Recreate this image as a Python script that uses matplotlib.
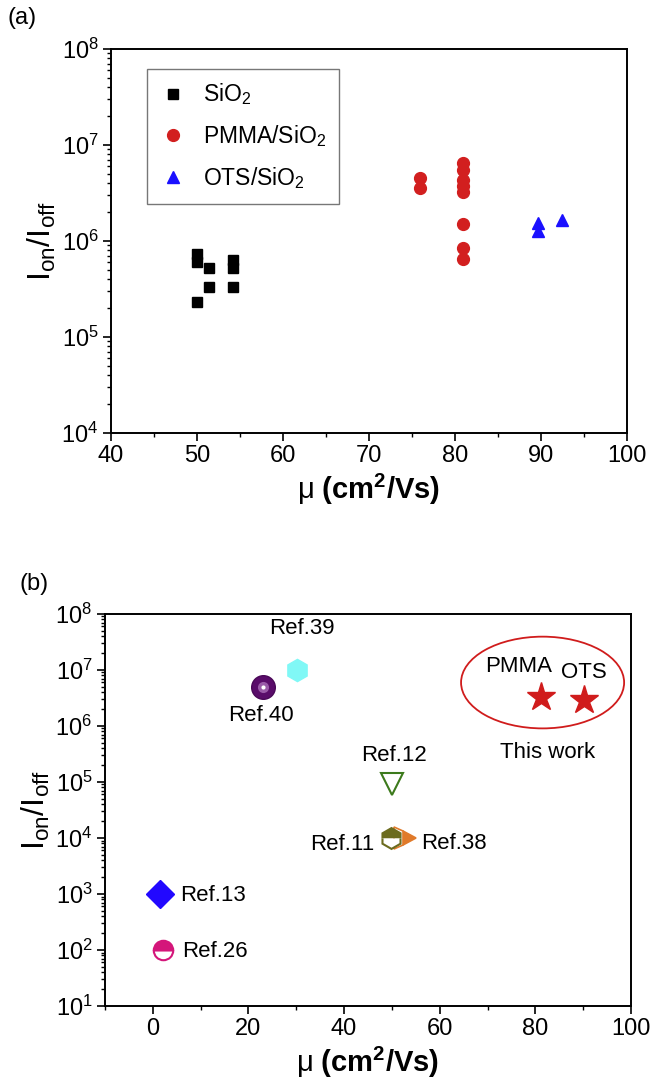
import matplotlib
matplotlib.use("Agg")
import matplotlib.pyplot as plt
from matplotlib.patches import Ellipse
from matplotlib.ticker import LogLocator, MultipleLocator, NullFormatter

plt.rcParams["font.family"] = ["Liberation Sans", "DejaVu Sans"]
plt.rcParams["mathtext.fontset"] = "custom"
plt.rcParams["mathtext.rm"] = "Liberation Sans"
plt.rcParams["mathtext.it"] = "Liberation Sans:italic"
plt.rcParams["mathtext.bf"] = "Liberation Sans:bold"

# ---- Panel (a): on/off ratio vs mobility for three dielectrics ----
sio2_mu = [50.0, 50.0, 50.0, 51.4, 51.4, 54.2, 54.2, 54.2]
sio2_ratio = [7.3e5, 6.1e5, 2.3e5, 5.2e5, 3.3e5, 6.3e5, 5.2e5, 3.3e5]

pmma_mu = [75.9, 75.9, 80.9, 80.9, 80.9, 80.9, 80.9, 80.9, 80.9, 80.9]
pmma_ratio = [4.5e6, 3.6e6, 6.5e6, 5.5e6, 4.3e6, 3.7e6, 3.2e6, 1.5e6, 8.5e5, 6.5e5]

ots_mu = [89.65, 89.65, 92.4]
ots_ratio = [1.55e6, 1.28e6, 1.66e6]

# ---- Panel (b): comparison with literature ----
ref_names = ["Ref.39", "Ref.40", "Ref.12", "Ref.11", "Ref.38", "Ref.13", "Ref.26"]
ref_mu = [30.1, 23.1, 50.1, 49.8, 52.8, 1.5, 2.2]
ref_ratio = [1.0e7, 5.0e6, 9.0e4, 1.0e4, 1.0e4, 1.0e3, 1.0e2]

work_names = ["PMMA", "OTS"]
work_mu = [81.1, 90.1]
work_ratio = [3.3e6, 2.9e6]

xticks_a = [40, 50, 60, 70, 80, 90, 100]
xticks_b = [0, 20, 40, 60, 80, 100]

fig = plt.figure(figsize=(6.5, 10.86), dpi=100)
ax1 = fig.add_axes([0.1708, 0.6013, 0.7938, 0.3536])
ax2 = fig.add_axes([0.1615, 0.0737, 0.8092, 0.3610])

red = "#d21f1f"
blue = "#1a10ff"

ax1.plot(sio2_mu, sio2_ratio, "s", color="black", ms=7.5, ls="none", label=r"SiO$_2$")
ax1.plot(pmma_mu, pmma_ratio, "o", color=red, ms=8.5, ls="none", label=r"PMMA/SiO$_2$")
ax1.plot(ots_mu, ots_ratio, "^", color=blue, ms=9, ls="none", label=r"OTS/SiO$_2$")

ax1.set_yscale("log")
ax1.set_xlim(40, 100)
ax1.set_ylim(1e4, 1e8)
ax1.set_xticks(xticks_a)
ax1.xaxis.set_minor_locator(MultipleLocator(5))

leg = ax1.legend(loc="upper left", bbox_to_anchor=(0.07, 0.948), borderaxespad=0,
                 fontsize=16.5, frameon=True, fancybox=False, edgecolor="#555555",
                 handletextpad=0.7, labelspacing=0.7, borderpad=0.55,
                 handlelength=1.2)
leg.get_frame().set_linewidth(1.0)

# Literature markers
ax2.plot(ref_mu[0], ref_ratio[0], "h", color="#80f8f6", ms=16, mec="#80f8f6")
ax2.plot(ref_mu[1], ref_ratio[1], "o", color="#5a0c6a", ms=17, mec="#4a0858")
ax2.plot(ref_mu[1], ref_ratio[1], "o", color="#9a5aa8", ms=8, mec="none")
ax2.plot(ref_mu[1], ref_ratio[1], "o", color="white", ms=3, mec="none")
ax2.plot(ref_mu[2], ref_ratio[2], "v", mfc="none", mec="#3c7a1c", ms=16, mew=1.5)
ax2.plot(ref_mu[4], ref_ratio[4], ">", color="#e07a2a", ms=16, fillstyle="right",
         markerfacecoloralt="white", mec="#e07a2a", mew=1.2)
ax2.plot(ref_mu[3], ref_ratio[3], "h", color="#6b6b1e", ms=15, fillstyle="top",
         markerfacecoloralt="white", mec="#6b6b1e", mew=1.5)
ax2.plot(ref_mu[5], ref_ratio[5], "D", color="#2208ff", ms=14, mec="#2208ff")
ax2.plot(ref_mu[6], ref_ratio[6], "o", color="#d4167a", ms=14, fillstyle="top",
         markerfacecoloralt="white", mec="#d4167a", mew=1.5)

ax2.plot(work_mu, work_ratio, "*", color="#d01c1c", ms=21, ls="none")

lab_kw = dict(fontsize=16, ha="center", va="center")
ax2.annotate(ref_names[0], (ref_mu[0], ref_ratio[0]), xytext=(4, 30), textcoords="offset points", **lab_kw)
ax2.annotate(ref_names[1], (ref_mu[1], ref_ratio[1]), xytext=(-2, -21), textcoords="offset points", **lab_kw)
ax2.annotate(ref_names[2], (ref_mu[2], ref_ratio[2]), xytext=(1, 21), textcoords="offset points", **lab_kw)
ax2.annotate(ref_names[3], (ref_mu[3], ref_ratio[3]), xytext=(-35, -5), textcoords="offset points", **lab_kw)
ax2.annotate(ref_names[4], (ref_mu[4], ref_ratio[4]), xytext=(35, -4), textcoords="offset points", **lab_kw)
ax2.annotate(ref_names[5], (ref_mu[5], ref_ratio[5]), xytext=(38, -1), textcoords="offset points", **lab_kw)
ax2.annotate(ref_names[6], (ref_mu[6], ref_ratio[6]), xytext=(37, -1), textcoords="offset points", **lab_kw)

ax2.annotate(work_names[0], (work_mu[0], work_ratio[0]), xytext=(-16, 22), textcoords="offset points", **lab_kw)
ax2.annotate(work_names[1], (work_mu[1], work_ratio[1]), xytext=(0, 20), textcoords="offset points", **lab_kw)
ax2.text(0.842, 0.647, "This work", transform=ax2.transAxes, **lab_kw)
ax2.add_patch(Ellipse((0.832, 0.825), 0.31, 0.234, transform=ax2.transAxes,
                      fill=False, edgecolor="#d01c1c", lw=1.3))

ax2.set_yscale("log")
ax2.set_xlim(-10, 100)
ax2.set_ylim(1e1, 1e8)
ax2.set_xticks(xticks_b)
ax2.xaxis.set_minor_locator(MultipleLocator(10))

for ax in (ax1, ax2):
    ax.yaxis.set_major_locator(LogLocator(base=10, numticks=20))
    ax.yaxis.set_minor_locator(LogLocator(base=10, subs=range(2, 10), numticks=20))
    ax.yaxis.set_minor_formatter(NullFormatter())
    ax.tick_params(which="major", direction="out", length=6, width=1.2, labelsize=17,
                   top=False, right=False, pad=3)
    ax.tick_params(which="minor", direction="out", length=3, width=1.0,
                   top=False, right=False)
    for sp in ax.spines.values():
        sp.set_linewidth(1.4)
    ax.set_ylabel(r"$\mathregular{I_{on}/I_{off}}$", fontsize=23, labelpad=2)
    ax.set_xlabel(r"$\mathregular{\mu}$ $\mathbf{(cm^2/Vs)}$", fontsize=21, labelpad=3)

fig.text(0.012, 0.983, "(a)", fontsize=17, ha="left", va="center")
fig.text(0.03, 0.462, "(b)", fontsize=17, ha="left", va="center")

fig.savefig("out.png", dpi=100)
